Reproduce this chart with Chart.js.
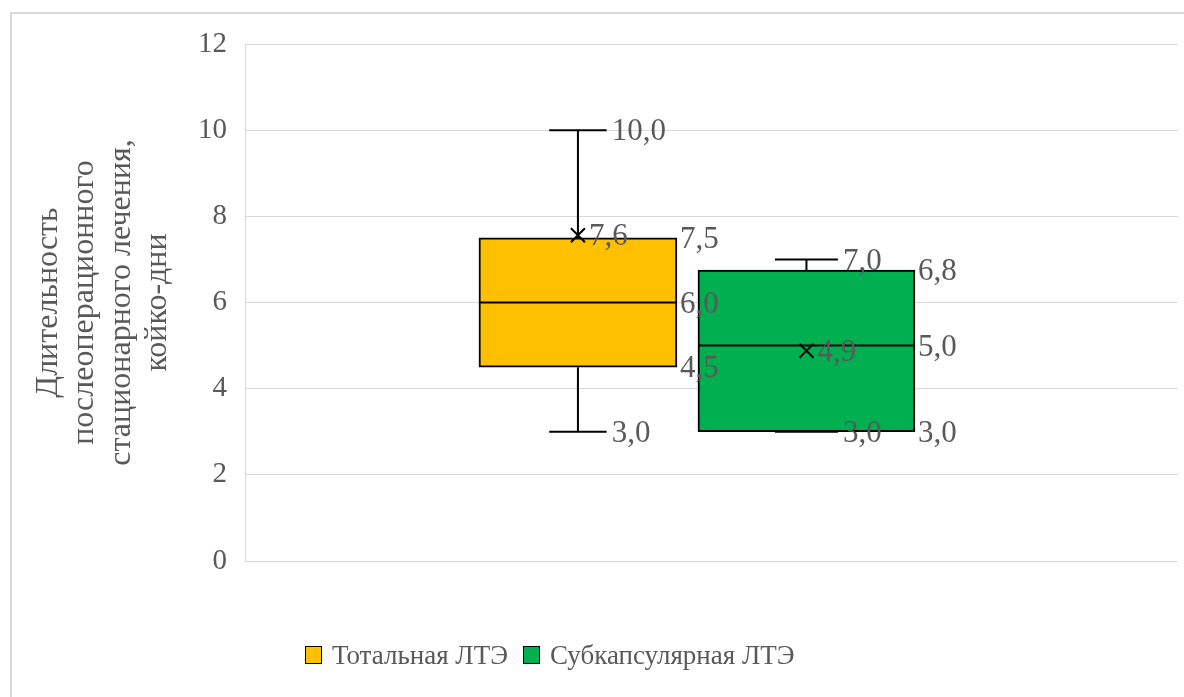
<!DOCTYPE html>
<html lang="ru">
<head>
<meta charset="utf-8">
<title>Длительность послеоперационного стационарного лечения</title>
<script src="https://cdn.jsdelivr.net/npm/chart.js@4/dist/chart.umd.min.js"></script>
<style>
  html, body { margin: 0; padding: 0; background: #fff; overflow: hidden; }
  #frame {
    position: absolute; left: 10px; top: 12px; width: 1300px; height: 800px;
    border: 2px solid #d9d9d9; box-sizing: border-box;
  }
  #wrap { position: absolute; left: 0; top: 0; width: 1184px; height: 697px; }
  #legend {
    position: absolute; left: 305px; top: 638px; height: 34px;
    display: flex; align-items: center;
    font-family: 'Liberation Serif', 'Times New Roman', serif; font-size: 27px; color: #595959;
  }
  #legend .item { display: flex; align-items: center; margin-right: 15px; }
  #legend .swatch {
    width: 17px; height: 18px; box-sizing: border-box;
    border: 1.5px solid #000; margin-right: 10px;
  }
</style>
</head>
<body>
<div id="frame"></div>
<div id="wrap"><canvas id="boxChart" width="1184" height="697"></canvas></div>
<div id="legend"></div>
<script>
// данные для диаграммы размаха
const seriesNames = ['Тотальная ЛТЭ', 'Субкапсулярная ЛТЭ'];
const seriesColors = ['#ffc000', '#00b050'];
const minValues = [3.0, 3.0];
const q1Values = [4.5, 3.0];
const medianValues = [6.0, 5.0];
const q3Values = [7.5, 6.75];
const maxValues = [10.0, 7.0];
const meanValues = [7.56, 4.88];
const yTickValues = [0, 2, 4, 6, 8, 10, 12];
const yTitle = ['Длительность', 'послеоперационного', 'стационарного лечения,', 'койко-дни'];

const textColor = '#595959';
const gridColor = '#d9d9d9';
const serif = "'Liberation Serif', 'Times New Roman', serif";
const boxWidths = [198, 217];

const fmt = (v) => v.toFixed(1).replace('.', ',');

const boxPlotPlugin = {
  id: 'boxPlotExtras',
  afterDatasetsDraw(chart) {
    const ctx = chart.ctx;
    const y = chart.scales.y;
    ctx.save();
    chart.data.datasets.forEach((ds, i) => {
      const bar = chart.getDatasetMeta(i).data[0];
      if (!bar) return;
      const cx = bar.x;
      const half = bar.width / 2;
      const capHalf = bar.width * 0.145;
      const pMin = y.getPixelForValue(minValues[i]);
      const pQ1 = y.getPixelForValue(q1Values[i]);
      const pMed = y.getPixelForValue(medianValues[i]);
      const pQ3 = y.getPixelForValue(q3Values[i]);
      const pMax = y.getPixelForValue(maxValues[i]);
      const pMean = y.getPixelForValue(meanValues[i]);

      ctx.strokeStyle = '#000';
      ctx.lineWidth = 2;
      ctx.beginPath();
      // усы
      ctx.moveTo(cx, pQ3); ctx.lineTo(cx, pMax);
      ctx.moveTo(cx - capHalf, pMax); ctx.lineTo(cx + capHalf, pMax);
      ctx.moveTo(cx, pQ1); ctx.lineTo(cx, pMin);
      ctx.moveTo(cx - capHalf, pMin); ctx.lineTo(cx + capHalf, pMin);
      // медиана
      ctx.moveTo(cx - half, pMed); ctx.lineTo(cx + half, pMed);
      ctx.stroke();

      // среднее (крестик)
      const m = 7;
      ctx.lineWidth = 2;
      ctx.beginPath();
      ctx.moveTo(cx - m, pMean - m); ctx.lineTo(cx + m, pMean + m);
      ctx.moveTo(cx + m, pMean - m); ctx.lineTo(cx - m, pMean + m);
      ctx.stroke();

      // подписи
      ctx.fillStyle = textColor;
      ctx.font = '31px ' + serif;
      ctx.textAlign = 'left';
      ctx.textBaseline = 'middle';
      const dy = 2;
      ctx.fillText(fmt(maxValues[i]), cx + capHalf + 5, pMax + dy);
      ctx.fillText(fmt(minValues[i]), cx + capHalf + 5, pMin + dy);
      ctx.fillText(fmt(q3Values[i]), cx + half + 3, pQ3 + dy);
      ctx.fillText(fmt(medianValues[i]), cx + half + 3, pMed + dy);
      ctx.fillText(fmt(q1Values[i]), cx + half + 3, pQ1 + dy);
      ctx.fillText(fmt(meanValues[i]), cx + 11, pMean + dy);
    });
    ctx.restore();
  }
};

const xMin = -0.457;
const xMax = 3.626;

new Chart(document.getElementById('boxChart'), {
  type: 'bar',
  data: {
    datasets: seriesNames.map((name, i) => ({
      label: name,
      data: [{ x: i + 1, y: [q1Values[i], q3Values[i]] }],
      backgroundColor: seriesColors[i],
      borderColor: '#000',
      borderWidth: 2,
      borderSkipped: false,
      grouped: false,
      barThickness: boxWidths[i],
      maxBarThickness: boxWidths[i]
    }))
  },
  options: {
    responsive: false,
    animation: false,
    layout: { padding: { top: 44, bottom: 136, left: 0, right: 6 } },
    plugins: {
      legend: { display: false },
      tooltip: { enabled: false }
    },
    scales: {
      x: {
        type: 'linear',
        min: xMin,
        max: xMax,
        offset: false,
        display: false,
        afterBuildTicks: (axis) => { axis.ticks = [{ value: xMin }, { value: xMax }]; }
      },
      y: {
        min: 0,
        max: 12,
        afterBuildTicks: (axis) => { axis.ticks = yTickValues.map((v) => ({ value: v })); },
        afterFit: (axis) => { axis.width = 245; },
        grid: { color: gridColor, lineWidth: 1, drawTicks: false },
        border: { color: gridColor, width: 1 },
        ticks: {
          color: textColor,
          padding: 18,
          font: { family: serif, size: 29 }
        },
        title: {
          display: true,
          text: yTitle,
          color: textColor,
          padding: { top: 30, bottom: 0 },
          font: { family: serif, size: 32, lineHeight: 1.14 }
        }
      }
    }
  },
  plugins: [boxPlotPlugin]
});

// легенда
const legendEl = document.getElementById('legend');
seriesNames.forEach((name, i) => {
  const item = document.createElement('div');
  item.className = 'item';
  const sw = document.createElement('span');
  sw.className = 'swatch';
  sw.style.background = seriesColors[i];
  const label = document.createElement('span');
  label.textContent = name;
  item.appendChild(sw);
  item.appendChild(label);
  legendEl.appendChild(item);
});
</script>
</body>
</html>
